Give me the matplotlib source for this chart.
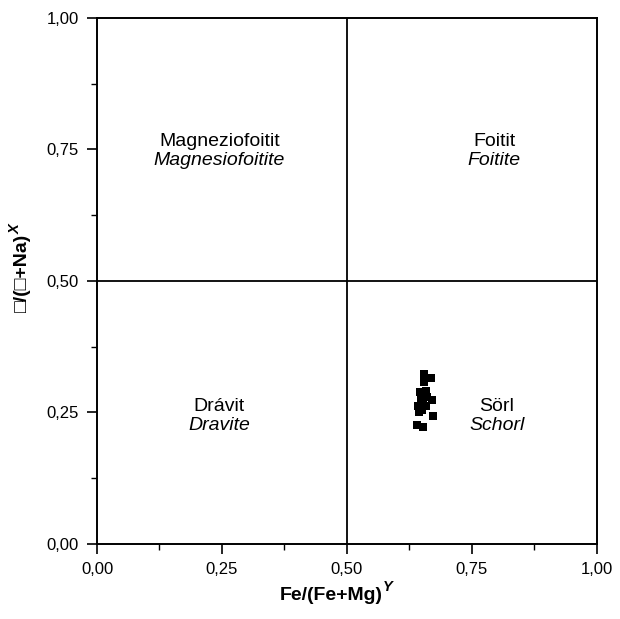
import numpy as np
import matplotlib.pyplot as plt
from matplotlib.ticker import FuncFormatter, MultipleLocator

plt.rcParams['font.family'] = ['Liberation Sans', 'DejaVu Sans']

# Fe/(Fe+Mg) and vacancy/(vacancy+Na) of the analysed tourmalines
fe_ratio = [0.654, 0.668, 0.655, 0.646, 0.659, 0.671, 0.649, 0.661,
            0.652, 0.643, 0.658, 0.672, 0.645, 0.640, 0.653, 0.650]
vac_ratio = [0.323, 0.315, 0.308, 0.288, 0.290, 0.274, 0.276, 0.279,
             0.268, 0.262, 0.262, 0.243, 0.250, 0.226, 0.222, 0.255]

fields = [
    (0.245, 0.766, 0.729, 'Magneziofoitit', 'Magnesiofoitite'),
    (0.795, 0.766, 0.729, 'Foitit', 'Foitite'),
    (0.245, 0.262, 0.225, 'Drávit', 'Dravite'),
    (0.80, 0.262, 0.225, 'Sörl', 'Schorl'),
]

fig = plt.figure(figsize=(6.2, 6.19), dpi=100)
ax = fig.add_axes([0.1565, 0.1212, 0.806, 0.8498])

ax.axhline(0.5, color='black', lw=1.3)
ax.axvline(0.5, color='black', lw=1.3)

ax.plot(fe_ratio, vac_ratio, 's', color='black', ms=5.2, mec='black', mew=0)

for x, y1, y2, hu, en in fields:
    ax.text(x, y1, hu, ha='center', va='center', fontsize=14)
    ax.text(x, y2, en, ha='center', va='center', fontsize=14, style='italic')

ax.set_xlim(0, 1)
ax.set_ylim(0, 1)
comma = FuncFormatter(lambda v, p: ('%.2f' % v).replace('.', ','))
for axis in (ax.xaxis, ax.yaxis):
    axis.set_major_locator(MultipleLocator(0.25))
    axis.set_minor_locator(MultipleLocator(0.125))
    axis.set_major_formatter(comma)
ax.tick_params(which='major', direction='out', length=7, width=1.2, labelsize=12, pad=6)
ax.tick_params(which='minor', direction='out', length=4, width=1.0)
for s in ax.spines.values():
    s.set_linewidth(1.4)

# axis titles with a bold italic superscript
xl = fig.text(0.535, 0.030, 'Fe/(Fe+Mg)', ha='center', va='baseline',
              fontsize=14, fontweight='bold')
yl = fig.text(0.036, 0.559, '□/(□+Na)', ha='center', va='center', rotation=90,
              fontsize=14, fontweight='bold')
fig.canvas.draw()
r = fig.canvas.get_renderer()
inv = fig.transFigure.inverted()
bx = inv.transform(xl.get_window_extent(r))
fig.text(bx[1][0] - 0.001, 0.030 + 0.016, 'Y', fontsize=10.5,
         fontweight='bold', style='italic', va='baseline')
by = inv.transform(yl.get_window_extent(r))
fig.text(0.036 - 0.011, by[1][1] - 0.001, 'X', fontsize=10.5, rotation=90,
         fontweight='bold', style='italic', ha='center', va='bottom')

plt.savefig('out.png', dpi=100)
